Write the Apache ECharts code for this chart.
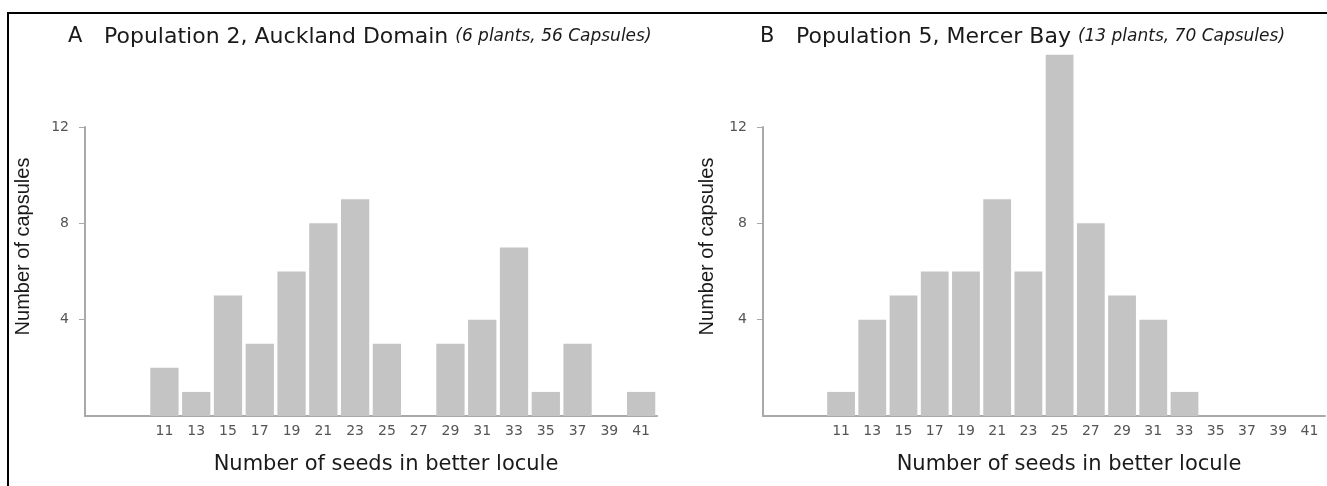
<!DOCTYPE html>
<html>
<head>
<meta charset="utf-8">
<script src="https://cdn.jsdelivr.net/npm/echarts@6/dist/echarts.min.js"></script>
<style>
html,body{margin:0;padding:0;background:#fff;}
#chart{width:1327px;height:486px;}
</style>
</head>
<body>
<div id="chart"></div>
<script>
// Seed-count bins (number of seeds in better locule)
const categories = [7, 9, 11, 13, 15, 17, 19, 21, 23, 25, 27, 29, 31, 33, 35, 37, 39, 41];
const firstLabelled = 11;
// Panel A: Population 2, Auckland Domain
const countsA = [0, 0, 2, 1, 5, 3, 6, 8, 9, 3, 0, 3, 4, 7, 1, 3, 0, 1];
// Panel B: Population 5, Mercer Bay
const countsB = [0, 0, 1, 4, 5, 6, 6, 9, 6, 15, 8, 5, 4, 1, 0, 0, 0, 0];
const yTicks = [4, 8, 12];
const titleA = {letter: 'A', main: 'Population 2, Auckland Domain', note: '(6 plants, 56 Capsules)'};
const titleB = {letter: 'B', main: 'Population 5, Mercer Bay', note: '(13 plants, 70 Capsules)'};
const xName = 'Number of seeds in better locule';
const yName = 'Number of capsules';

const chart = echarts.init(document.getElementById('chart'), null, {renderer: 'canvas'});

const axisGray = '#a9a9a9';
const labelGray = '#555';
const barGray = '#c4c4c4';

function mkTitle(t, left) {
  return {
    left: left, top: 21,
    text: '{l|' + t.letter + '}{m|' + t.main + ' }{n|' + t.note + '}',
    textStyle: {
      fontWeight: 'normal',
      rich: {
        l: {fontFamily: 'DejaVu Sans', fontSize: 21, fontWeight: 'normal', color: '#1a1a1a', width: 36},
        m: {fontFamily: 'DejaVu Sans', fontSize: 22, fontWeight: 'normal', color: '#1a1a1a'},
        n: {fontFamily: 'DejaVu Sans', fontSize: 17, fontWeight: 'normal', fontStyle: 'italic', color: '#1a1a1a'}
      }
    }
  };
}

function mkX(gridIndex, pad) {
  return {
    type: 'category', gridIndex: gridIndex, data: categories,
    axisLine: {lineStyle: {color: axisGray, width: 2}},
    axisTick: {show: false},
    axisLabel: {
      interval: 0, margin: 8, color: labelGray, fontFamily: 'DejaVu Sans', fontSize: 14,
      formatter: v => (Number(v) >= firstLabelled ? String(v) : '')
    },
    name: xName, nameLocation: 'middle', nameGap: 38,
    nameTextStyle: {fontFamily: 'DejaVu Sans', fontSize: 21, color: '#1a1a1a', padding: [0, 0, 0, pad]}
  };
}

function mkY(gridIndex, gap) {
  return {
    type: 'value', gridIndex: gridIndex, min: 0, max: 12, interval: 4,
    splitLine: {show: false},
    axisLine: {show: true, lineStyle: {color: axisGray, width: 2}},
    axisTick: {show: true, length: 6, lineStyle: {color: axisGray, width: 1}, customValues: yTicks},
    axisLabel: {margin: 16, color: labelGray, fontFamily: 'DejaVu Sans', fontSize: 14, customValues: yTicks},
    name: yName, nameLocation: 'middle', nameGap: gap, nameRotate: 90,
    nameTextStyle: {fontFamily: 'Liberation Sans', fontSize: 20, color: '#1a1a1a', padding: [0, 0, 0, 50]}
  };
}

const option = {
  backgroundColor: '#ffffff',
  animation: false,
  title: [mkTitle(titleA, 63), mkTitle(titleB, 755)],
  grid: [
    {left: 85, width: 572, top: 127, height: 289, containLabel: false},
    {left: 763, width: 562, top: 127, height: 289, containLabel: false}
  ],
  xAxis: [mkX(0, 30), mkX(1, 50)],
  yAxis: [mkY(0, 52), mkY(1, 46)],
  series: [
    {type: 'bar', xAxisIndex: 0, yAxisIndex: 0, data: countsA, barCategoryGap: '11%', clip: false,
     itemStyle: {color: barGray}, silent: true},
    {type: 'bar', xAxisIndex: 1, yAxisIndex: 1, data: countsB, barCategoryGap: '11%', clip: false,
     itemStyle: {color: barGray}, silent: true}
  ],
  graphic: [
    {type: 'line', shape: {x1: 7, y1: 13, x2: 1327, y2: 13}, style: {stroke: '#000', lineWidth: 2}, silent: true},
    {type: 'line', shape: {x1: 8, y1: 12, x2: 8, y2: 486}, style: {stroke: '#000', lineWidth: 2}, silent: true}
  ]
};
chart.setOption(option);
</script>
</body>
</html>
